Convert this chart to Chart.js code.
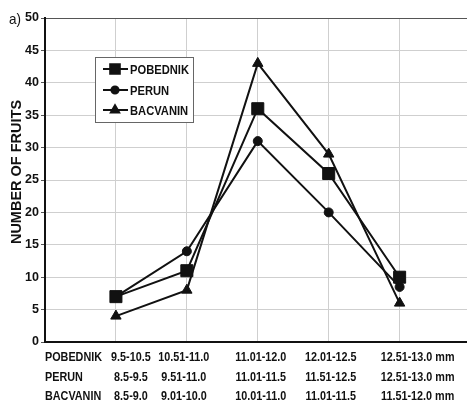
<!DOCTYPE html>
<html>
<head>
<meta charset="utf-8">
<script src="https://cdn.jsdelivr.net/npm/chart.js@4.4.1/dist/chart.umd.min.js"></script>
<style>
html, body { margin: 0; padding: 0; background: #ffffff; overflow: hidden; }
canvas { display: block; }
</style>
</head>
<body>
<canvas id="myChart" width="467" height="405"></canvas>
<script>
// données
const seriesNames = ['POBEDNIK', 'PERUN', 'BACVANIN'];
const xPositions = [1, 2, 3, 4, 5];
const pobednik = [7, 11, 36, 26, 10];
const perun = [7, 14, 31, 20, 8.5];
const bacvanin = [4, 8, 43, 29, 6];
const pobednikClasses = ['9.5-10.5', '10.51-11.0', '11.01-12.0', '12.01-12.5', '12.51-13.0 mm'];
const perunClasses = ['8.5-9.5', '9.51-11.0', '11.01-11.5', '11.51-12.5', '12.51-13.0 mm'];
const bacvaninClasses = ['8.5-9.0', '9.01-10.0', '10.01-11.0', '11.01-11.5', '11.51-12.0 mm'];
const yTicks = [0, 5, 10, 15, 20, 25, 30, 35, 40, 45, 50];

const fontFam = '"Liberation Sans", Arial, sans-serif';
const ink = '#111111';
const colShift = [15, -3, 3, 2, 18]; // décalage des colonnes du tableau / points

const toPoints = (vals) => vals.map((v, i) => ({ x: xPositions[i], y: v }));

// texte un peu condensé, comme l'original
function narrowText(ctx, txt, x, y, sx) {
    ctx.save();
    ctx.translate(x, y);
    ctx.scale(sx, 1);
    ctx.fillText(txt, 0, 0);
    ctx.restore();
}

// tableau des classes sous l'axe + "a)" + titre + légende
const extrasPlugin = {
    id: 'extras',
    afterDraw(chart) {
        const ctx = chart.ctx;
        const xs = chart.scales.x;
        const area = chart.chartArea;
        ctx.save();
        ctx.fillStyle = ink;
        ctx.textBaseline = 'middle';
        // a)
        ctx.textAlign = 'left';
        ctx.font = '15px ' + fontFam;
        narrowText(ctx, 'a)', 9, area.top + 2, 0.9);
        // titre vertical
        ctx.save();
        ctx.translate(17, 172);
        ctx.rotate(-Math.PI / 2);
        ctx.textAlign = 'center';
        ctx.font = 'bold 14.5px ' + fontFam;
        narrowText(ctx, 'NUMBER OF FRUITS', 0, 0, 1.0);
        ctx.restore();
        // table
        ctx.font = 'bold 12px ' + fontFam;
        const rows = [pobednikClasses, perunClasses, bacvaninClasses];
        const rowY = [area.bottom + 16, area.bottom + 36, area.bottom + 55];
        rows.forEach((row, r) => {
            ctx.textAlign = 'left';
            narrowText(ctx, seriesNames[r], area.left, rowY[r], 0.9);
            row.forEach((lab, i) => {
                const cx = xs.getPixelForValue(xPositions[i]) + colShift[i];
                ctx.textAlign = 'center';
                narrowText(ctx, lab, cx, rowY[r], 0.9);
            });
        });
        // légende
        const bx = 95, by = 57, bw = 98, bh = 65;
        ctx.fillStyle = '#ffffff';
        ctx.fillRect(bx, by, bw, bh);
        ctx.strokeStyle = '#666666';
        ctx.lineWidth = 1;
        ctx.strokeRect(bx + 0.5, by + 0.5, bw, bh);
        const itemY = [by + 12, by + 33, by + 53];
        chart.data.datasets.forEach((ds, i) => {
            const y = itemY[i];
            ctx.strokeStyle = ink;
            ctx.lineWidth = 2;
            ctx.beginPath();
            ctx.moveTo(bx + 8, y);
            ctx.lineTo(bx + 33, y);
            ctx.stroke();
            ctx.fillStyle = ink;
            Chart.helpers.drawPoint(ctx, {
                pointStyle: ds.pointStyle,
                radius: ds.pointRadius * 0.8,
                borderWidth: 1
            }, bx + 20, y);
            ctx.fillStyle = ink;
            ctx.font = 'bold 13px ' + fontFam;
            ctx.textAlign = 'left';
            narrowText(ctx, ds.label, bx + 35, y + 1, 0.86);
        });
        ctx.restore();
    }
};

const chart = new Chart(
    document.getElementById('myChart'),
    {
        type: 'line',
        data: {
            datasets: [
                {
                    label: seriesNames[0],
                    data: toPoints(pobednik),
                    pointStyle: 'rect',
                    pointRadius: 8.5
                },
                {
                    label: seriesNames[1],
                    data: toPoints(perun),
                    pointStyle: 'circle',
                    pointRadius: 4.5
                },
                {
                    label: seriesNames[2],
                    data: toPoints(bacvanin),
                    pointStyle: 'triangle',
                    pointRadius: 6
                }
            ].map(d => Object.assign(d, {
                borderColor: ink,
                backgroundColor: ink,
                pointBackgroundColor: ink,
                pointBorderColor: ink,
                borderWidth: 2,
                pointBorderWidth: 1,
                tension: 0
            }))
        },
        options: {
            animation: false,
            responsive: false,
            layout: { autoPadding: false, padding: { top: 18, right: 0, left: 0, bottom: 0 } },
            plugins: {
                legend: { display: false },
                tooltip: { enabled: false }
            },
            scales: {
                x: {
                    type: 'linear',
                    min: 0,
                    max: 5.95,
                    afterBuildTicks: (s) => { s.ticks = [0, 1, 2, 3, 4, 5].map(v => ({ value: v })); },
                    afterFit: (s) => { s.height = 63; },
                    ticks: { display: false },
                    grid: {
                        color: (c) => c.index === 0 ? 'rgba(0,0,0,0)' : '#cfcfcf',
                        lineWidth: 1,
                        drawTicks: false
                    },
                    border: { color: ink, width: 2 }
                },
                y: {
                    min: 0,
                    max: 50,
                    afterBuildTicks: (s) => { s.ticks = yTicks.map(v => ({ value: v })); },
                    afterFit: (s) => { s.width = 45; },
                    ticks: {
                        color: ink,
                        padding: 2,
                        font: { family: fontFam, size: 12.5, weight: 'bold' }
                    },
                    grid: {
                        color: (c) => c.tick.value === 50 ? '#555555' : '#cfcfcf',
                        tickColor: '#555555',
                        tickLength: 4,
                        lineWidth: 1
                    },
                    border: { color: ink, width: 2 }
                }
            }
        },
        plugins: [extrasPlugin]
    }
);
</script>
</body>
</html>
